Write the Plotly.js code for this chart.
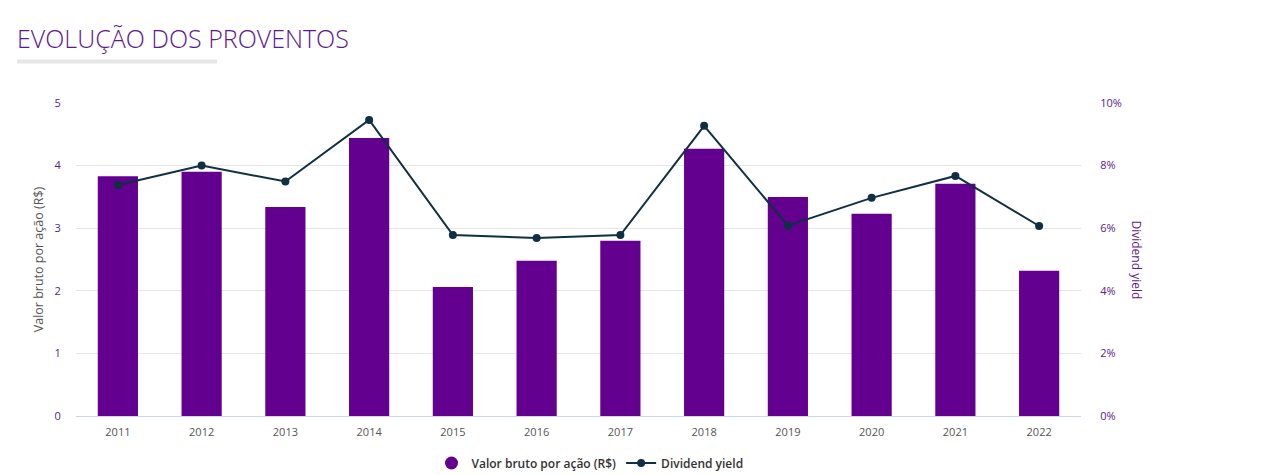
<!DOCTYPE html>
<html>
<head>
<meta charset="utf-8">
<script src="https://cdn.plot.ly/plotly-3.0.1.min.js"></script>
<style>
html,body{margin:0;padding:0;background:#fff;}
#chart{width:1261px;height:475px;}
</style>
</head>
<body>
<div id="chart"></div>
<script>
const years = ['2011','2012','2013','2014','2015','2016','2017','2018','2019','2020','2021','2022'];
const valorBruto = [3.83, 3.90, 3.34, 4.44, 2.06, 2.48, 2.80, 4.27, 3.50, 3.23, 3.71, 2.32];
const dividendYield = [7.38, 8.00, 7.49, 9.46, 5.78, 5.69, 5.78, 9.27, 6.08, 6.97, 7.67, 6.07];
const leftTicks = [0, 1, 2, 3, 4, 5];
const rightTicks = [0, 2, 4, 6, 8, 10];
const rightTickLabels = ['0%', '2%', '4%', '6%', '8%', '10%'];

const purple = '#63008f';
const navy = '#0e2f44';
const font = 'Open Sans, sans-serif';

const traces = [
  {
    type: 'bar', x: years, y: valorBruto, name: 'Valor bruto por ação (R$)',
    marker: {color: purple}, width: 0.48, showlegend: false, hoverinfo: 'x+y'
  },
  {
    type: 'scatter', mode: 'markers', x: [null], y: [null], name: 'Valor bruto por ação (R$)',
    marker: {color: purple, size: 13, symbol: 'circle'}, showlegend: true
  },
  {
    type: 'scatter', mode: 'lines+markers', x: years, y: dividendYield, yaxis: 'y2',
    name: 'Dividend yield', line: {color: navy, width: 2}, marker: {color: navy, size: 8}
  }
];

const layout = {
  width: 1261, height: 475,
  paper_bgcolor: '#ffffff', plot_bgcolor: '#ffffff',
  font: {family: font, color: '#555'},
  margin: {l: 76, r: 180, t: 103, b: 59, autoexpand: false},
  title: {
    text: 'EVOLUÇÃO DOS PROVENTOS',
    font: {family: font, size: 25, color: '#5e1790', weight: 300},
    xref: 'container', yref: 'container', x: 17/1261, xanchor: 'left', y: 1 - 39/475, yanchor: 'middle',
    automargin: false
  },
  bargap: 0.52,
  xaxis: {
    type: 'category', tickvals: years, ticktext: years, automargin: false,
    range: [-0.5, years.length - 0.5],
    showgrid: false, showline: true, linecolor: '#ccd6eb', linewidth: 1,
    ticks: 'outside', ticklen: 6, tickcolor: 'rgba(0,0,0,0)',
    tickfont: {family: font, size: 11, color: '#555'}, zeroline: false, fixedrange: true
  },
  yaxis: {
    range: [0, 5], tickvals: leftTicks, ticktext: leftTicks.map(String), automargin: false,
    showgrid: true, gridcolor: '#e6e6e6', gridwidth: 1, zeroline: false,
    ticks: 'outside', ticklen: 12, tickcolor: 'rgba(0,0,0,0)',
    tickfont: {family: font, size: 11, color: '#5a1a8a'},
    title: {text: 'Valor bruto por ação (R$)', font: {family: font, size: 12.5, color: '#555'}, standoff: 8},
    fixedrange: true
  },
  yaxis2: {
    range: [0, 10], overlaying: 'y', side: 'right', automargin: false,
    tickvals: rightTicks, ticktext: rightTickLabels,
    showgrid: false, zeroline: false,
    ticks: 'outside', ticklen: 16, tickcolor: 'rgba(0,0,0,0)',
    tickfont: {family: font, size: 11, color: '#5a1a8a'}, fixedrange: true
  },
  annotations: [
    {
      text: 'Dividend yield', xref: 'paper', yref: 'paper',
      x: (1136 - 76) / 1005, y: 0.5, xanchor: 'center', yanchor: 'middle',
      textangle: 90, showarrow: false, font: {family: font, size: 12, color: '#5a1a8a'}
    }
  ],
  shapes: [
    {
      type: 'rect', xref: 'paper', yref: 'paper',
      x0: (17 - 76) / 1005, x1: (217 - 76) / 1005,
      y0: (416 - 63.5) / 313, y1: (416 - 59.5) / 313,
      fillcolor: '#e6e6e6', line: {width: 0}, layer: 'above'
    }
  ],
  legend: {
    orientation: 'h', x: (590 - 76) / 1005, xanchor: 'center', y: -47 / 313, yanchor: 'middle',
    font: {family: font, size: 12, color: '#333', weight: 600}, traceorder: 'normal'
  },
  hovermode: 'closest'
};

Plotly.newPlot('chart', traces, layout, {displayModeBar: false, staticPlot: true});
</script>
</body>
</html>
